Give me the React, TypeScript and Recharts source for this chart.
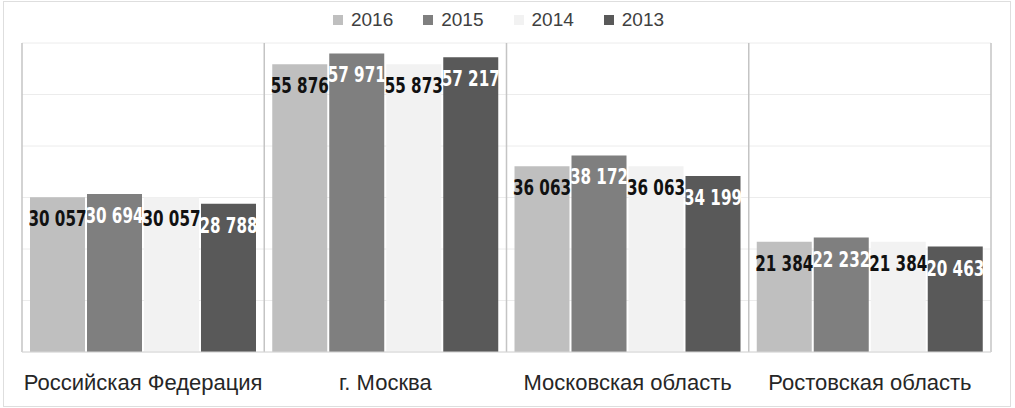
import { Bar, BarChart, CartesianGrid, LabelList, Legend, XAxis, YAxis } from "recharts";

const regions = ["Российская Федерация", "г. Москва", "Московская область", "Ростовская область"];
const y2016 = [30057, 55876, 36063, 21384];
const y2015 = [30694, 57971, 38172, 22232];
const y2014 = [30057, 55873, 36063, 21384];
const y2013 = [28788, 57217, 34199, 20463];
const yTicks = [0, 10000, 20000, 30000, 40000, 50000, 60000];

const series = [
  { key: "y2016", name: "2016", color: "#bfbfbf", text: "#111" },
  { key: "y2015", name: "2015", color: "#7f7f7f", text: "#fff" },
  { key: "y2014", name: "2014", color: "#f2f2f2", text: "#111" },
  { key: "y2013", name: "2013", color: "#595959", text: "#fff" },
];

const data = regions.map((name, i) => ({
  name,
  y2016: y2016[i],
  y2015: y2015[i],
  y2014: y2014[i],
  y2013: y2013[i],
}));

const fmt = (v: any) => String(v).replace(/\B(?=(\d{3})+(?!\d))/g, " ");

function LegendContent() {
  return (
    <div
      style={{
        height: 38,
        display: "flex",
        justifyContent: "center",
        alignItems: "center",
        paddingBottom: 8,
        paddingLeft: 14,
        boxSizing: "border-box",
        fontFamily: "'Liberation Sans', Arial, sans-serif",
        fontSize: 19,
        color: "#404040",
      }}
    >
      {series.map((s) => (
        <span key={s.key} style={{ display: "inline-flex", alignItems: "center", marginRight: 30 }}>
          <span style={{ width: 10, height: 10, background: s.color, marginRight: 8, display: "inline-block" }} />
          {s.name}
        </span>
      ))}
    </div>
  );
}

// narrow bold value label near the top of each bar
const makeLabel = (fill: string) => (props: any) => {
  const { x, y, width, value } = props;
  const cx = x + width / 2;
  return (
    <text
      transform={`translate(${cx}, ${y + 29}) scale(0.69, 1)`}
      textAnchor="middle"
      fill={fill}
      fontSize={22}
      fontWeight="bold"
      fontFamily="'DejaVu Sans', sans-serif"
    >
      {fmt(value)}
    </text>
  );
};

const dividers = ({ offset }: any) =>
  regions.map((_, i) => offset.left + (i * offset.width) / regions.length).concat(offset.left + offset.width);

export default function App() {
  return (
    <div style={{ position: "absolute", left: 0, top: 0, width: 1015, height: 408, background: "#fff" }}>
      <div
        style={{
          position: "absolute",
          left: 3,
          top: 1,
          width: 1006,
          height: 404,
          border: "1px solid #dedede",
        }}
      />
      <BarChart
        width={1015}
        height={408}
        data={data}
        margin={{ top: 5, right: 24, bottom: 16, left: 22 }}
        barCategoryGap={8}
        barGap={2}
      >
        <CartesianGrid vertical={false} stroke="#ececec" />
        <CartesianGrid horizontal={false} stroke="#c4c4c4" strokeWidth={1.5} verticalCoordinatesGenerator={dividers} />
        <XAxis
          dataKey="name"
          height={40}
          tickLine={false}
          axisLine={{ stroke: "#d6d6d6" }}
          tickMargin={16}
          tick={{ fill: "#262626", fontSize: 22, fontFamily: "'Liberation Sans', Arial, sans-serif" }}
        />
        <YAxis hide domain={[0, 60000]} ticks={yTicks} />
        <Legend verticalAlign="top" align="center" content={<LegendContent />} />
        {series.map((s) => (
          <Bar key={s.key} dataKey={s.key} name={s.name} fill={s.color} isAnimationActive={false}>
            <LabelList dataKey={s.key} content={makeLabel(s.text)} />
          </Bar>
        ))}
      </BarChart>
    </div>
  );
}
